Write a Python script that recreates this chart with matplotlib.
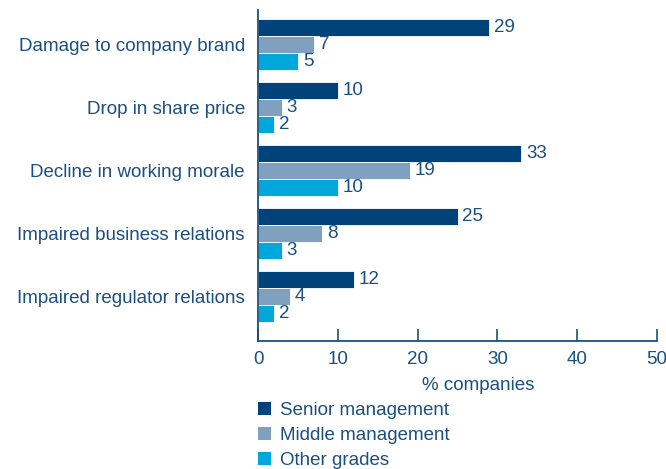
import matplotlib
matplotlib.use("Agg")
import matplotlib.pyplot as plt
import numpy as np
from matplotlib.patches import Patch

categories = ["Damage to company brand", "Drop in share price", "Decline in working morale",
              "Impaired business relations", "Impaired regulator relations"]
senior = [29, 10, 33, 25, 12]
middle = [7, 3, 19, 8, 4]
other = [5, 2, 10, 3, 2]
series_names = ["Senior management", "Middle management", "Other grades"]
colors = ["#00427a", "#7fa0bf", "#00a7db"]
xticks = [0, 10, 20, 30, 40, 50]

txt = "#1b4f80"
plt.rcParams['font.family'] = ['Liberation Sans', 'DejaVu Sans']

fig = plt.figure(figsize=(6.66, 4.69), dpi=100)
W, H = 666, 469
ax = fig.add_axes([258 / W, 1 - 341 / H, (657 - 258) / W, (341 - 10) / H])

y = np.arange(len(categories))
h = 0.27
fs = 13.5
for vals, off, c in zip([senior, middle, other], [-h, 0, h], colors):
    bars = ax.barh(y + off, vals, height=h, color=c, edgecolor='white', linewidth=0.6)
    for b, v in zip(bars, vals):
        ax.annotate(str(v), (b.get_width(), b.get_y() + b.get_height() / 2),
                    xytext=(3.5, 0), textcoords='offset points', va='center', ha='left',
                    fontsize=fs, color=txt)

ax.set_xlim(0, 50)
ax.set_ylim(4.714, -0.54)
ax.set_yticks(y)
ax.set_yticklabels(categories, fontsize=fs, color=txt)
ax.set_xticks(xticks)
ax.set_xticklabels([str(t) for t in xticks], fontsize=fs, color=txt)
ax.tick_params(axis='y', length=0, pad=9.5)
ax.tick_params(axis='x', direction='in', length=9, width=1.2, color=txt, pad=7)
for s in ['top', 'right']:
    ax.spines[s].set_visible(False)
for s in ['left', 'bottom']:
    ax.spines[s].set_color(txt)
    ax.spines[s].set_linewidth(1.3)

fig.text(478 / W, 1 - 385 / H, "% companies", fontsize=fs, color=txt, ha='center', va='center')

handles = [Patch(facecolor=c, edgecolor='none') for c in colors]
leg = fig.legend(handles, series_names, loc='upper left', bbox_to_anchor=(258 / W, 1 - 402 / H),
                 frameon=False, fontsize=fs, handlelength=0.7, handleheight=0.7,
                 handletextpad=0.5, labelspacing=0.42, borderaxespad=0, borderpad=0)
for t in leg.get_texts():
    t.set_color(txt)

fig.savefig("out.png", dpi=100)
